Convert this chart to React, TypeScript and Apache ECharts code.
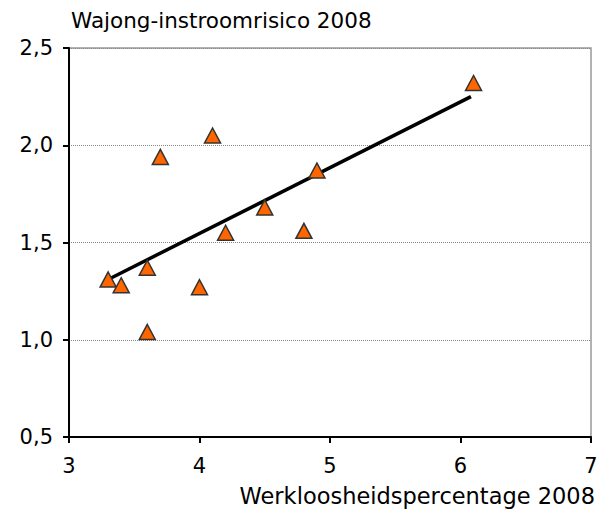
import React, { useEffect, useRef } from "react";
import * as echarts from "echarts";

const unemployment = [6.1, 4.1, 3.7, 4.9, 4.5, 4.2, 4.8, 3.6, 3.3, 3.4, 4.0, 3.6];
const wajongRisk = [2.32, 2.05, 1.94, 1.87, 1.68, 1.55, 1.56, 1.37, 1.31, 1.28, 1.27, 1.04];
const trendX = [3.3, 6.08];
const trendY = [1.31, 2.25];
const titleText = "Wajong-instroomrisico 2008";
const xName = "Werkloosheidspercentage 2008";

export default function App() {
  const ref = useRef<HTMLDivElement>(null);
  useEffect(() => {
    if (!ref.current) return;
    const chart = echarts.init(ref.current, undefined, { renderer: "svg" });
    const font = "DejaVu Sans, Verdana, sans-serif";
    chart.setOption({
      animation: false,
      backgroundColor: "#ffffff",
      title: {
        text: titleText,
        left: 66,
        top: 4,
        textStyle: { fontFamily: font, fontSize: 21.5, fontWeight: "normal", color: "#000" },
      },
      grid: {
        left: 69,
        right: 13,
        top: 48,
        bottom: 74,
        show: true,
        borderColor: "#999",
        borderWidth: 1.5,
      },
      xAxis: {
        type: "value",
        min: 3,
        max: 7,
        interval: 1,
        name: xName,
        nameLocation: "end",
        nameGap: 0,
        nameTextStyle: {
          fontFamily: font,
          fontSize: 22.5,
          color: "#000",
          align: "right",
          verticalAlign: "top",
          padding: [47, -4, 0, 0],
        },
        axisLine: { show: true, onZero: false, lineStyle: { color: "#000", width: 2 } },
        axisTick: { show: true, inside: false, length: 6, lineStyle: { color: "#000", width: 2 } },
        axisLabel: { fontFamily: font, fontSize: 21, color: "#000", margin: 18 },
        splitLine: { show: false },
      },
      yAxis: {
        type: "value",
        min: 0.5,
        max: 2.5,
        interval: 0.5,
        axisLine: { show: true, onZero: false, lineStyle: { color: "#000", width: 2 } },
        axisTick: { show: true, inside: false, length: 6, lineStyle: { color: "#000", width: 2 } },
        axisLabel: {
          fontFamily: font,
          fontSize: 21,
          color: "#000",
          margin: 16,
          formatter: (v: number) => v.toFixed(1).replace(".", ","),
        },
        splitLine: { show: true, lineStyle: { color: "#888", type: "dotted", width: 1 } },
      },
      series: [
        {
          type: "line",
          data: trendX.map((x, i) => [x, trendY[i]]),
          showSymbol: false,
          symbol: "none",
          lineStyle: { color: "#000", width: 3.5 },
          z: 2,
        },
        {
          type: "scatter",
          data: unemployment.map((x, i) => [x, wajongRisk[i]]),
          symbol: "triangle",
          symbolSize: [16, 15],
          itemStyle: { color: "#FF6600", opacity: 1, borderColor: "#333", borderWidth: 1.5 },
          z: 3,
        },
      ],
    });
    return () => chart.dispose();
  }, []);
  return (
    <div
      ref={ref}
      style={{ position: "absolute", left: 0, top: 0, width: 604, height: 511 }}
    />
  );
}
